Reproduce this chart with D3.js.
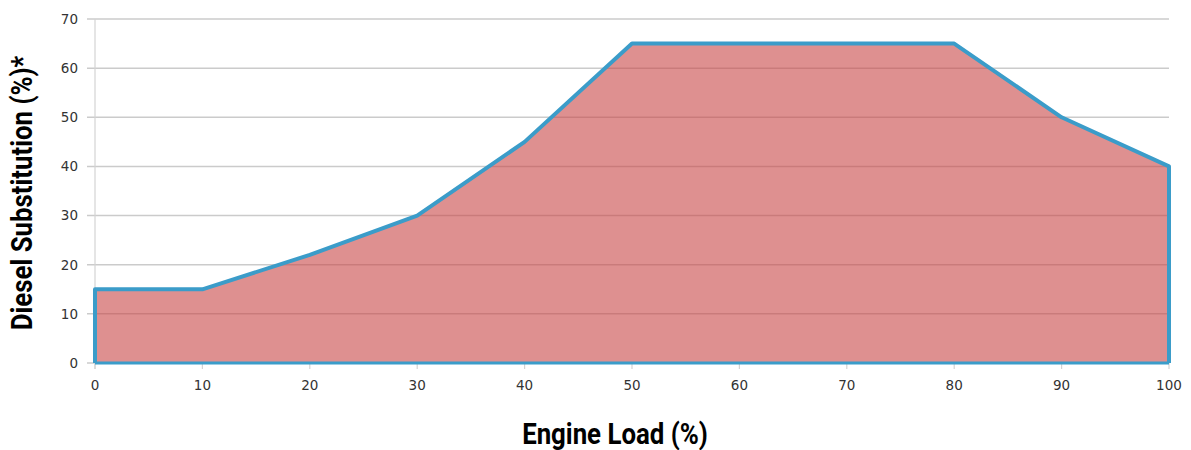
<!DOCTYPE html>
<html>
<head>
<meta charset="utf-8">
<script src="https://cdn.jsdelivr.net/npm/d3@7"></script>
<style>
  body { margin: 0; background: #fff; }
</style>
</head>
<body>
<div id="chart"></div>
<script>
const loadValues = [0, 10, 20, 30, 40, 50, 60, 70, 80, 90, 100];
const substitution = [15, 15, 22, 30, 45, 65, 65, 65, 65, 50, 40];
const yTicks = [0, 10, 20, 30, 40, 50, 60, 70];
const xTicks = [0, 10, 20, 30, 40, 50, 60, 70, 80, 90, 100];

const W = 1191, H = 450;
const margin = { top: 19, right: 22, bottom: 87, left: 95 };
const width = W - margin.left - margin.right;
const height = H - margin.top - margin.bottom;

const data = loadValues.map((d, i) => ({ x: d, y: substitution[i] }));

const svg = d3.select('#chart').append('svg')
  .attr('width', W)
  .attr('height', H);

const g = svg.append('g')
  .attr('transform', `translate(${margin.left},${margin.top})`);

const x = d3.scaleLinear().domain([0, 100]).range([0, width]);
const y = d3.scaleLinear().domain([0, 70]).range([height, 0]);

// grid lines
g.append('g')
  .selectAll('line')
  .data(yTicks)
  .enter().append('line')
  .attr('x1', -8)
  .attr('x2', width)
  .attr('y1', (d) => y(d))
  .attr('y2', (d) => y(d))
  .attr('stroke', '#cbcbcb')
  .attr('stroke-width', 1.5);

// y axis line
g.append('line')
  .attr('x1', 0).attr('x2', 0)
  .attr('y1', 0).attr('y2', height + 6)
  .attr('stroke', '#d4d4d4')
  .attr('stroke-width', 1.2);

// x tick marks
g.append('g')
  .selectAll('line')
  .data(xTicks)
  .enter().append('line')
  .attr('x1', (d) => x(d))
  .attr('x2', (d) => x(d))
  .attr('y1', height)
  .attr('y2', height + 6)
  .attr('stroke', '#d4d4d4')
  .attr('stroke-width', 1.2);

// area
const area = d3.area()
  .x((d) => x(d.x))
  .y0(y(0))
  .y1((d) => y(d.y));

g.append('path')
  .datum(data)
  .attr('d', area)
  .attr('fill', 'rgb(200,70,70)')
  .attr('fill-opacity', 0.6);

// outline
const outline = [{ x: 0, y: 0 }].concat(data, [{ x: 100, y: 0 }]);
g.append('path')
  .datum(outline)
  .attr('d', d3.line().x((d) => x(d.x)).y((d) => y(d.y)))
  .attr('fill', 'none')
  .attr('stroke', '#3b9cc9')
  .attr('stroke-width', 4)
  .attr('stroke-linejoin', 'round');

g.append('line')
  .attr('x1', 0).attr('x2', width)
  .attr('y1', height).attr('y2', height)
  .attr('stroke', '#3b9cc9')
  .attr('stroke-width', 3);

// tick labels
g.append('g')
  .selectAll('text')
  .data(yTicks)
  .enter().append('text')
  .attr('x', -17)
  .attr('y', (d) => y(d))
  .attr('dy', '0.36em')
  .attr('text-anchor', 'end')
  .style('font-family', 'DejaVu Sans, sans-serif')
  .style('font-size', '13.5px')
  .attr('fill', '#333')
  .text((d) => d);

g.append('g')
  .selectAll('text')
  .data(xTicks)
  .enter().append('text')
  .attr('x', (d) => x(d))
  .attr('y', height + 27)
  .attr('text-anchor', 'middle')
  .style('font-family', 'DejaVu Sans, sans-serif')
  .style('font-size', '13.5px')
  .attr('fill', '#333')
  .text((d) => d);

// axis titles (condensed bold look)
svg.append('text')
  .attr('transform', 'translate(615, 444) scale(0.89, 1)')
  .attr('text-anchor', 'middle')
  .style('font-family', 'Roboto, sans-serif')
  .style('font-weight', 'bold')
  .style('font-size', '29px')
  .attr('fill', '#000')
  .text('Engine Load (%)');

svg.append('text')
  .attr('transform', `translate(32, ${margin.top + height / 2 + 2}) rotate(-90) scale(0.89, 1)`)
  .attr('text-anchor', 'middle')
  .style('font-family', 'Roboto, sans-serif')
  .style('font-weight', 'bold')
  .style('font-size', '29px')
  .attr('fill', '#000')
  .text('Diesel Substitution (%)*');
</script>
</body>
</html>
